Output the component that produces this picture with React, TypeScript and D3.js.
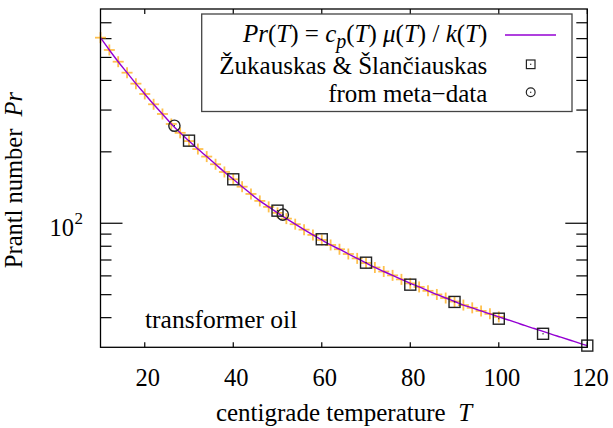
import React from "react";
import * as d3 from "d3";

// ---- data ----
const plusT = [10, 12, 14, 16, 18, 20, 22, 24, 26, 28, 30, 32, 34, 36, 38, 40, 42, 44, 46, 48, 50, 52, 54, 56, 58, 60, 62, 64, 66, 68, 70, 72, 74, 76, 78, 80, 82, 84, 86, 88, 90, 92, 94, 96, 98, 100];
const plusPr = [605.7, 537.5, 479.7, 431.2, 387.6, 350.7, 317.3, 288.8, 262.1, 240.5, 222.0, 205.5, 191.0, 177.3, 164.5, 153.2, 142.6, 132.9, 124.2, 117.2, 110.6, 104.6, 99.1, 94.0, 89.3, 85.0, 81.0, 77.7, 74.2, 71.1, 68.0, 65.1, 62.6, 60.3, 58.0, 55.8, 53.9, 51.9, 50.1, 48.4, 46.8, 45.2, 44.0, 42.7, 41.5, 40.3];
const tailT = [102, 104, 106, 108, 110, 112, 114, 116, 118, 120];
const tailPr = [39.2, 38.1, 37.0, 36.0, 35.0, 34.0, 33.1, 32.2, 31.3, 30.5];
const curveT = [...plusT, ...tailT];
const curvePr = [...plusPr, ...tailPr];

const zsT = [30, 40, 50, 60, 70, 80, 90, 100, 110, 120];
const zsPr = [222.9, 153.2, 113.0, 85.6, 68.2, 55.1, 46.6, 39.6, 34.2, 30.5];

const metaT = [26.7, 51.2];
const metaPr = [257.8, 108.7];

const xTicks = [20, 40, 60, 80, 100, 120];
const yMajor = [100];
const yMinor = [40, 50, 60, 70, 80, 90, 200, 300, 400, 500, 600, 700];

const FONT = "'Liberation Serif', 'DejaVu Serif', serif";
const FS = 25;
const TFS = 24.5;

export default function App() {
  const W = 613, H = 428;
  const x = d3.scaleLinear().domain([10, 120]).range([100.5, 587.3]);
  const y = d3.scaleLog().domain([30, 800]).range([347.3, 9]);
  const L = x.range()[0], R = x.range()[1], T = y.range()[1], B = y.range()[0];

  const line = d3
    .line<number>()
    .x((_, i) => x(curveT[i]))
    .y((d) => y(d))
    .curve(d3.curveMonotoneX);

  const tickStroke = "#000";
  const ts = { fontFamily: FONT };

  return (
    <svg
      width={W}
      height={H}
      style={{ position: "absolute", left: 0, top: 0, background: "#fff", fontFamily: FONT }}
    >
      <rect x={0} y={0} width={W} height={H} fill="#fff" />
      {xTicks.map((t) => (
        <g key={"xt" + t}>
          <line x1={x(t)} x2={x(t)} y1={B} y2={B - 5} stroke={tickStroke} strokeWidth={1.2} />
          <line x1={x(t)} x2={x(t)} y1={T} y2={T + 5} stroke={tickStroke} strokeWidth={1.2} />
          <text x={x(t) + 3} y={385.7} fontSize={TFS} textAnchor="middle" fill="#000" style={ts}>
            {t}
          </text>
        </g>
      ))}
      {yMajor.map((v) => (
        <g key={"ym" + v}>
          <line x1={L} x2={L + 22} y1={y(v)} y2={y(v)} stroke={tickStroke} strokeWidth={1.2} />
          <line x1={R} x2={R - 22} y1={y(v)} y2={y(v)} stroke={tickStroke} strokeWidth={1.2} />
        </g>
      ))}
      {yMinor.map((v) => (
        <g key={"yn" + v}>
          <line x1={L} x2={L + 11} y1={y(v)} y2={y(v)} stroke={tickStroke} strokeWidth={1.2} />
          <line x1={R} x2={R - 11} y1={y(v)} y2={y(v)} stroke={tickStroke} strokeWidth={1.2} />
        </g>
      ))}
      <text x={74} y={y(100) + 13} fontSize={TFS} textAnchor="end" fill="#000" style={ts}>
        10
      </text>
      <text x={74.5} y={y(100) + 1} fontSize={17} fill="#000" style={ts}>
        2
      </text>

      {plusT.map((t, i) => {
        const cx = x(t), cy = y(plusPr[i]);
        return (
          <g key={"p" + t} stroke="#FFA500" strokeWidth={1.8} strokeOpacity={0.7}>
            <line x1={cx - 5.5} x2={cx + 5.5} y1={cy} y2={cy} />
            <line x1={cx} x2={cx} y1={cy - 5.5} y2={cy + 5.5} />
          </g>
        );
      })}

      <path d={line(curvePr) || ""} fill="none" stroke="#9400D3" strokeWidth={1.4} />

      {zsT.map((t, i) => {
        const cx = x(t), cy = y(zsPr[i]);
        return (
          <g key={"s" + t}>
            <rect x={cx - 5.5} y={cy - 5.5} width={11} height={11} fill="none" stroke="#222" strokeWidth={1.4} />
            <rect x={cx - 0.6} y={cy - 0.6} width={1.2} height={1.2} fill="#222" />
          </g>
        );
      })}
      {metaT.map((t, i) => {
        const cx = x(t), cy = y(metaPr[i]);
        return (
          <g key={"c" + t}>
            <circle cx={cx} cy={cy} r={5.6} fill="none" stroke="#222" strokeWidth={1.4} />
            <rect x={cx - 0.6} y={cy - 0.6} width={1.2} height={1.2} fill="#222" />
          </g>
        );
      })}

      <rect x={L} y={T} width={R - L} height={B - T} fill="none" stroke="#000" strokeWidth={1.3} />

      <rect x={201.7} y={14} width={370.3} height={97.5} fill="#fff" stroke="#444" strokeWidth={1.3} />
      <text x={487.3} y={41.7} fontSize={FS} textAnchor="end" fill="#000" style={ts} xmlSpace="preserve">
        <tspan fontStyle="italic">Pr</tspan>
        <tspan>(</tspan>
        <tspan fontStyle="italic">T</tspan>
        <tspan>) = </tspan>
        <tspan fontStyle="italic">c</tspan>
        <tspan fontStyle="italic" fontSize={20} dy={6}>p</tspan>
        <tspan dy={-6}>(</tspan>
        <tspan fontStyle="italic">T</tspan>
        <tspan>) </tspan>
        <tspan fontStyle="italic">μ</tspan>
        <tspan>(</tspan>
        <tspan fontStyle="italic">T</tspan>
        <tspan>) / </tspan>
        <tspan fontStyle="italic">k</tspan>
        <tspan>(</tspan>
        <tspan fontStyle="italic">T</tspan>
        <tspan>)</tspan>
      </text>
      <line x1={505} x2={556} y1={35} y2={35} stroke="#9400D3" strokeWidth={1.4} />
      <text x={487.3} y={74} fontSize={FS} textAnchor="end" fill="#000" style={ts}>
        Žukauskas &amp; Šlančiauskas
      </text>
      <rect x={530.7 - 4.3} y={64.3 - 4.3} width={8.6} height={8.6} fill="none" stroke="#222" strokeWidth={1.2} />
      <rect x={530.1} y={63.7} width={1.2} height={1.2} fill="#222" />
      <text x={487.3} y={102} fontSize={FS} textAnchor="end" fill="#000" style={ts}>
        from meta−data
      </text>
      <circle cx={530.7} cy={92.3} r={4.4} fill="none" stroke="#222" strokeWidth={1.2} />
      <rect x={530.1} y={91.7} width={1.2} height={1.2} fill="#222" />

      <text x={145} y={328.3} fontSize={25.5} fill="#000" style={ts}>
        transformer oil
      </text>

      <text x={344} y={421} fontSize={FS} textAnchor="middle" fill="#000" xmlSpace="preserve" style={ts}>
        <tspan>centigrade temperature  </tspan>
        <tspan fontStyle="italic">T</tspan>
      </text>
      <text
        transform={`translate(22,180) rotate(-90)`}
        fontSize={24.5}
        textAnchor="middle"
        fill="#000"
        xmlSpace="preserve"
        style={ts}
      >
        <tspan>Prantl number  </tspan>
        <tspan fontStyle="italic">Pr</tspan>
      </text>
    </svg>
  );
}
